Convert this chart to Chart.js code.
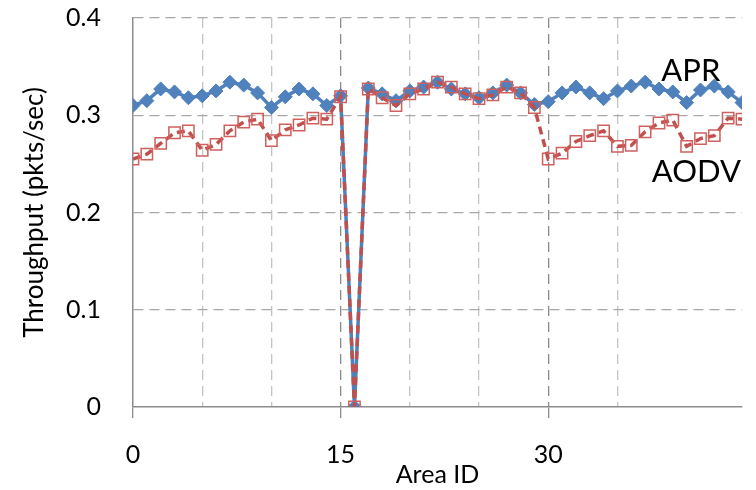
<!DOCTYPE html>
<html>
<head>
<meta charset="utf-8">
<script src="https://cdn.jsdelivr.net/npm/chart.js@4/dist/chart.umd.min.js"></script>
<style>
  html, body { margin: 0; padding: 0; background: #fff; }
  #wrap { width: 756px; height: 490px; }
</style>
</head>
<body>
<div id="wrap"><canvas id="mycanvas" width="756" height="490"></canvas></div>
<script>
// values
var areaIds = [0,1,2,3,4,5,6,7,8,9,10,11,12,13,14,15,16,17,18,19,20,21,22,
	23,24,25,26,27,28,29,30,31,32,33,34,35,36,37,38,39,40,41,42,43,44];
var aprThroughput = [0.310,0.315,0.327,0.324,0.318,0.320,0.325,0.334,0.331,0.323,
	0.308,0.319,0.327,0.322,0.310,0.320,0,0.328,0.322,0.315,0.325,0.329,0.334,
	0.327,0.322,0.318,0.323,0.331,0.323,0.311,0.314,0.323,0.329,0.323,0.317,
	0.325,0.330,0.334,0.327,0.324,0.313,0.326,0.330,0.324,0.313];
var aodvThroughput = [0.255,0.260,0.271,0.282,0.284,0.264,0.270,0.284,0.293,0.296,
	0.274,0.285,0.290,0.297,0.296,0.319,0,0.327,0.318,0.310,0.322,0.327,0.334,
	0.329,0.322,0.317,0.321,0.329,0.323,0.308,0.255,0.261,0.273,0.279,0.284,
	0.268,0.269,0.283,0.292,0.295,0.268,0.276,0.279,0.297,0.296];
var seriesNames = ['APR', 'AODV'];
var xLabelTicks = [0, 15, 30];

var FONT = 'Lato, "Open Sans", sans-serif';

function toPoints(ys) {
	var pts = [];
	for (var i in areaIds) pts.push({x: areaIds[i], y: ys[i]});
	return pts;
}

// series names written next to the lines
var seriesTags = {
	id: 'seriesTags',
	afterDatasetsDraw: function(chart) {
		var ctx = chart.ctx, xs = chart.scales.x, ys = chart.scales.y;
		var spots = [[40.3, 0.346], [40.7, 0.242]];
		ctx.save();
		ctx.font = '31px ' + FONT;
		ctx.fillStyle = '#000';
		ctx.textAlign = 'center';
		ctx.textBaseline = 'middle';
		for (var i = 0; i < seriesNames.length; i++) {
			ctx.fillText(seriesNames[i], xs.getPixelForValue(spots[i][0]), ys.getPixelForValue(spots[i][1]));
		}
		ctx.restore();
	}
};

var chart = new Chart(document.getElementById('mycanvas'), {
	type: 'line',
	data: {
		datasets: [
			{
				label: seriesNames[0],
				data: toPoints(aprThroughput),
				order: 2,
				borderColor: '#4f81bd',
				backgroundColor: '#4f81bd',
				borderWidth: 3.5,
				pointStyle: 'rectRot',
				pointRadius: 7,
				pointBackgroundColor: '#4f81bd',
				pointBorderColor: '#4f81bd',
				pointBorderWidth: 1,
				tension: 0,
				fill: false
			},
			{
				label: seriesNames[1],
				data: toPoints(aodvThroughput),
				order: 1,
				borderColor: '#c0504d',
				backgroundColor: 'rgba(0,0,0,0)',
				borderWidth: 3.5,
				borderDash: [8, 5],
				pointStyle: 'rect',
				pointRadius: 8,
				pointBackgroundColor: 'rgba(0,0,0,0)',
				pointBorderColor: '#d0605d',
				pointBorderWidth: 1.5,
				tension: 0,
				fill: false
			}
		]
	},
	plugins: [seriesTags],
	options: {
		responsive: false,
		animation: false,
		layout: { padding: { top: 18, right: 14, bottom: 0, left: 0 } },
		plugins: {
			legend: { display: false },
			tooltip: { enabled: false }
		},
		scales: {
			x: {
				type: 'linear',
				min: 0,
				max: 44,
				afterFit: function(scale) { scale.height = 83; },
				ticks: {
					stepSize: 5,
					autoSkip: false,
					maxRotation: 0,
					padding: 0,
					color: '#000',
					// tall line box pushes the labels down without adding side padding
					font: { family: FONT, size: 25, lineHeight: 2.96 },
					callback: function(v) { return xLabelTicks.indexOf(v) >= 0 ? String(v) : ''; }
				},
				grid: {
					lineWidth: 1.3,
					tickLength: 11,
					color: function(c) {
						var v = c.tick.value;
						if (v === 0 || v % 5 !== 0) return 'rgba(0,0,0,0)';
						return v % 15 === 0 ? '#8c8c8c' : '#c4c4c4';
					},
					tickColor: function(c) {
						return xLabelTicks.indexOf(c.tick.value) >= 0 ? '#8c8c8c' : 'rgba(0,0,0,0)';
					}
				},
				border: { display: true, color: '#8c8c8c', width: 1.5, dash: [10, 6] },
				title: {
					display: true,
					text: 'Area ID',
					color: '#000',
					font: { family: FONT, size: 25 },
					padding: { top: 0, bottom: 0 }
				}
			},
			y: {
				min: 0,
				max: 0.4,
				afterFit: function(scale) { scale.width = 133; },
				ticks: {
					stepSize: 0.1,
					padding: 2,
					color: '#000',
					font: { family: FONT, size: 25 }
				},
				grid: {
					drawTicks: true,
					tickLength: 30,
					tickColor: 'rgba(0,0,0,0)',
					lineWidth: 1.3,
					color: function(c) {
						return c.tick.value === 0 ? 'rgba(0,0,0,0)' : '#a8a8a8';
					}
				},
				border: { display: true, color: '#8c8c8c', width: 1.5, dash: [10, 6] },
				title: {
					display: true,
					text: 'Throughput (pkts/sec)',
					color: '#000',
					font: { family: FONT, size: 26 },
					padding: { top: 19, bottom: 0 }
				}
			}
		}
	}
});
</script>
</body>
</html>
